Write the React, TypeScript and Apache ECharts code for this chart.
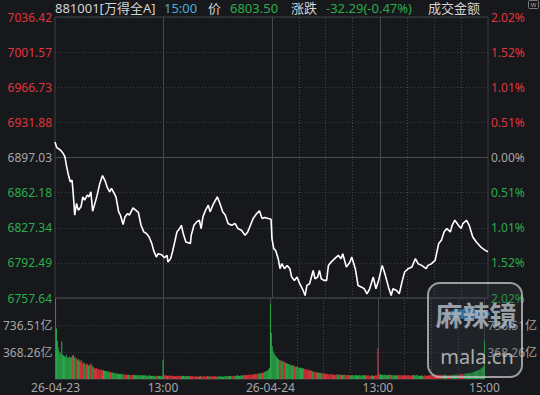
import React, { useEffect, useRef } from 'react';
import * as echarts from 'echarts';

// ---- data ----
const prevClose = 6897.03;
const lastPrice = 6803.5;
const change = -32.29;
const changePct = -0.47;

const timeLabelMinutes = [0, 121, 242, 363, 483];
const timeLabels = ['26-04-23', '13:00', '26-04-24', '13:00', '15:00'];

// trading-minute index (0..483 over two sessions) and price at that minute
const lineMinutes = [
  0, 2, 6, 9, 11, 13, 15, 17, 19, 20, 21, 22, 24, 26, 29, 31, 33, 36, 38, 40,
  42, 45, 47, 50, 53, 56, 58, 61, 63, 66, 68, 71, 73, 76, 78, 81, 83, 87, 90, 93,
  96, 99, 102, 105, 108, 110, 113, 115, 119, 122, 125, 126, 129, 131, 134, 136, 139, 141, 143, 146,
  151, 152, 155, 158, 161, 163, 165, 168, 171, 173, 176, 178, 181, 184, 187, 190, 193, 197, 201, 204,
  208, 212, 215, 218, 221, 225, 228, 231, 234, 238, 241,
  242, 244, 246, 249, 251, 253, 256, 259, 262, 264, 267, 270, 273, 276, 279, 281, 284, 288, 290, 293,
  295, 297, 300, 303, 305, 308, 312, 316, 319, 321, 325, 329, 331, 335, 338, 342, 345, 348, 351, 355,
  358, 361, 365, 368, 372, 375, 377, 381, 384, 387, 390, 394, 398, 402, 405, 409, 414, 416, 420, 424,
  426, 428, 431, 434, 437, 441, 443, 446, 450, 453, 455, 459, 462, 466, 470, 475, 480, 483,
];
const linePrices = [
  6912.5, 6906.8, 6904.5, 6901.2, 6897.8, 6887.9, 6879.6, 6872.9, 6874.6, 6864.7, 6853.0, 6839.8, 6851.4, 6844.8, 6848.1, 6858.0, 6854.7, 6859.7, 6858.0, 6863.0,
  6843.8, 6853.0, 6859.7, 6871.3, 6879.1, 6873.6, 6868.0, 6863.0, 6866.4, 6861.4, 6858.0, 6843.1, 6839.8, 6830.5, 6838.1, 6841.5, 6839.8, 6847.1, 6844.8, 6842.5,
  6829.8, 6823.2, 6821.6, 6818.2, 6811.6, 6804.9, 6798.3, 6801.6, 6800.6, 6797.6, 6799.9, 6793.3, 6796.7, 6803.3, 6814.9, 6823.2, 6826.5, 6829.8, 6821.6, 6813.2,
  6811.6, 6819.9, 6829.8, 6833.1, 6834.8, 6826.5, 6838.1, 6844.8, 6849.7, 6843.1, 6849.7, 6853.0, 6858.0, 6851.4, 6843.1, 6839.8, 6831.5, 6829.8, 6831.5, 6826.5,
  6824.8, 6819.9, 6823.2, 6829.8, 6836.5, 6841.5, 6844.1, 6836.5, 6837.5, 6836.5, 6835.79,
  6816.6, 6806.6, 6804.9, 6796.7, 6786.7, 6791.7, 6786.7, 6790.0, 6786.7, 6778.4, 6775.1, 6778.4, 6771.8, 6766.8, 6760.1, 6770.1, 6771.8, 6785.0, 6776.7, 6778.4,
  6785.0, 6776.7, 6775.1, 6775.1, 6790.0, 6793.3, 6796.7, 6800.0, 6796.7, 6801.6, 6788.3, 6793.3, 6798.3, 6786.7, 6770.1, 6768.4, 6766.8, 6761.8, 6766.8, 6778.4,
  6766.8, 6775.1, 6790.0, 6781.7, 6768.4, 6760.1, 6766.8, 6765.1, 6761.8, 6773.4, 6783.4, 6786.7, 6788.3, 6796.7, 6791.7, 6790.0, 6786.7, 6790.0, 6791.7, 6795.0,
  6803.3, 6811.6, 6815.0, 6823.2, 6826.5, 6823.2, 6829.8, 6834.8, 6829.8, 6826.5, 6831.5, 6834.8, 6829.8, 6818.2, 6813.2, 6808.2, 6804.9, 6803.5,
];

// turnover per minute, 亿
const volDay1 = [
  1100, 690, 520, 430, 380, 360, 340, 510, 330, 320,
  310, 300, 330, 290, 300, 280, 310, 290, 300, 320,
  330, 290, 300, 270, 280, 260, 270, 250, 240, 260,
  220, 210, 230, 200, 190, 210, 200, 180, 190, 200,
  210, 180, 170, 160, 150, 140, 150, 130, 140, 125,
  120, 130, 125, 115, 120, 110, 115, 105, 100, 110,
  95, 90, 100, 85, 90, 80, 85, 75, 80, 70,
  75, 70, 65, 70, 60, 65, 60, 70, 60, 55,
  60, 55, 60, 50, 55, 50, 55, 60, 50, 55,
  50, 55, 45, 50, 55, 50, 45, 50, 55, 45,
  50, 45, 50, 45, 40, 45, 50, 45, 40, 45,
  40, 45, 40, 35, 45, 40, 45, 40, 35, 40, 45,
  260,
  60, 50, 45, 50, 40, 45, 50, 40, 45, 40,
  45, 40, 35, 40, 45, 40, 35, 40, 45, 40,
  35, 40, 45, 35, 40, 35, 40, 45, 40, 35,
  40, 35, 40, 35, 30, 35, 40, 35, 30, 35,
  35, 40, 35, 30, 35, 40, 35, 30, 35, 40,
  35, 30, 35, 40, 35, 30, 35, 40, 35, 30,
  35, 30, 35, 40, 35, 30, 35, 30, 35, 40,
  35, 40, 35, 40, 45, 40, 35, 40, 45, 40,
  45, 40, 45, 50, 45, 40, 45, 50, 45, 50,
  50, 55, 50, 55, 50, 55, 60, 55, 60, 55,
  60, 65, 60, 70, 65, 70, 75, 70, 80, 75,
  80, 90, 85, 95, 100, 110, 105, 120, 130, 150,
];
const volDay2 = [
  1020, 630, 450, 380, 350, 330, 310, 300,
  280, 270, 260, 250, 255, 240, 235, 245, 230, 220,
  215, 210, 200, 205, 195, 190, 185, 180, 190, 175,
  170, 165, 175, 160, 155, 150, 160, 145, 140, 150,
  135, 130, 140, 125, 120, 130, 115, 110, 120, 105,
  100, 95, 100, 90, 95, 85, 90, 80, 85, 80,
  75, 80, 70, 75, 70, 65, 70, 65, 60, 65,
  60, 65, 60, 55, 60, 55, 60, 65, 55, 60,
  55, 60, 55, 50, 55, 60, 55, 50, 55, 50,
  55, 50, 45, 50, 55, 50, 45, 50, 55, 50,
  45, 50, 55, 50, 45, 50, 45, 50, 55, 45,
  50, 45, 50, 45, 40, 45, 50, 45, 40, 45, 50, 45, 50,
  420,
  80, 65, 60, 55, 60, 50, 55, 60, 50, 55,
  50, 55, 60, 50, 55, 50, 45, 50, 55, 50,
  45, 50, 55, 50, 45, 50, 55, 45, 50, 55,
  50, 45, 50, 55, 50, 45, 50, 45, 50, 55,
  50, 45, 50, 55, 50, 45, 40, 45, 50, 45,
  40, 45, 50, 45, 40, 45, 50, 45, 50, 45,
  50, 55, 50, 55, 60, 55, 50, 55, 60, 55,
  60, 55, 50, 55, 60, 55, 50, 55, 50, 55,
  50, 55, 60, 55, 50, 55, 60, 65, 60, 55,
  60, 65, 60, 70, 65, 60, 65, 70, 75, 70,
  75, 80, 75, 85, 80, 90, 95, 90, 100, 105,
  110, 115, 120, 125, 130, 140, 150, 160, 170, 530,
];

// vertical grid guides (trading-minute index)
const solidGuides = [121, 242, 363];
const dottedGuides = [272, 302, 332, 393, 423, 453];

// ---- styling ----
const BG = '#16181c';
const RED = '#e0343c';
const GREEN = '#2aad4a';
const GRAY = '#a6a6a6';
const FONT = '"Noto Sans", "Noto Sans CJK SC", sans-serif';
const GRID_SOLID = '#3c3f45';
const GRID_DOT = '#3a3d43';

function priceAt(m: number): number {
  if (m <= lineMinutes[0]) return linePrices[0];
  for (let i = 1; i < lineMinutes.length; i++) {
    if (m <= lineMinutes[i]) {
      const t = (m - lineMinutes[i - 1]) / (lineMinutes[i] - lineMinutes[i - 1]);
      return linePrices[i - 1] + t * (linePrices[i] - linePrices[i - 1]);
    }
  }
  return linePrices[linePrices.length - 1];
}

export default function App() {
  const ref = useRef<HTMLDivElement>(null);
  useEffect(() => {
    if (!ref.current) return;
    const chart = echarts.init(ref.current, null, { renderer: 'svg' });

    const priceMin = 6757.64;
    const priceMax = 7036.42;
    const priceStep = 34.8475;
    const volStep = 368.2567;
    const volMax = 1104.7701;

    const lineData = lineMinutes.map((m, i) => [m, linePrices[i]]);
    const vols = volDay1.concat(volDay2);
    const barData = vols.map((v, i) => {
      const prev = i === 0 ? prevClose : priceAt(i - 1);
      const cur = priceAt(i);
      return { value: [i, v], itemStyle: { color: cur >= prev ? RED : GREEN } };
    });

    const colorFor = (val: any) => {
      const v = parseFloat(val);
      if (Math.abs(v - prevClose) < 0.01) return GRAY;
      return v > prevClose ? RED : GREEN;
    };

    const guideLines = [
      ...solidGuides.map((x) => ({ xAxis: x, lineStyle: { type: 'solid', color: '#45484e', width: 1 } })),
      ...dottedGuides.map((x) => ({ xAxis: x, lineStyle: { type: [1, 2], color: '#45484e', width: 1 } })),
    ];

    const text = (x: number, y: number, t: string, fill: string, size = 13, align = 'left') => ({
      type: 'text',
      x,
      y,
      z: 50,
      style: { text: t, fill, font: `${size}px ${FONT}`, align, verticalAlign: 'middle' },
    });

    chart.setOption({
      animation: false,
      backgroundColor: BG,
      textStyle: { fontFamily: FONT },
      grid: [
        { left: 55, width: 433, top: 17, height: 281, show: true, borderColor: GRID_SOLID, borderWidth: 1 },
        { left: 55, width: 433, top: 298, height: 81, show: true, borderColor: GRID_SOLID, borderWidth: 1 },
      ],
      xAxis: [
        { type: 'value', gridIndex: 0, min: 0, max: 483, show: false },
        {
          type: 'value',
          gridIndex: 1,
          min: 0,
          max: 483,
          interval: 121,
          axisLine: { show: false },
          axisTick: { show: false },
          splitLine: { show: false },
          axisLabel: {
            color: GRAY,
            fontSize: 12,
            fontFamily: FONT,
            margin: 2,
            showMinLabel: true,
            showMaxLabel: true,
            formatter: (v: number) => {
              const k = timeLabelMinutes.indexOf(Math.round(v));
              return k >= 0 ? timeLabels[k] : '';
            },
          },
        },
      ],
      yAxis: [
        {
          type: 'value',
          gridIndex: 0,
          position: 'left',
          min: priceMin,
          max: priceMax,
          interval: priceStep,
          axisLine: { show: false },
          axisTick: { show: false },
          splitLine: { show: true, lineStyle: { color: GRID_DOT, type: [1, 2] } },
          axisLabel: {
            fontSize: 12,
            fontFamily: FONT,
            margin: 3,
            showMinLabel: true,
            showMaxLabel: true,
            formatter: (v: number) => v.toFixed(2),
            color: colorFor,
          },
        },
        {
          type: 'value',
          gridIndex: 0,
          position: 'right',
          min: priceMin,
          max: priceMax,
          interval: priceStep,
          axisLine: { show: false },
          axisTick: { show: false },
          splitLine: { show: false },
          axisLabel: {
            fontSize: 12,
            fontFamily: FONT,
            margin: 3,
            showMinLabel: true,
            showMaxLabel: true,
            formatter: (v: number) => (Math.abs((v - prevClose) / prevClose) * 100).toFixed(2) + '%',
            color: colorFor,
          },
        },
        {
          type: 'value',
          gridIndex: 1,
          position: 'left',
          min: 0,
          max: volMax,
          interval: volStep,
          axisLine: { show: false },
          axisTick: { show: false },
          splitLine: { show: true, lineStyle: { color: GRID_DOT, type: [1, 2] } },
          axisLabel: {
            fontSize: 12,
            fontFamily: FONT,
            margin: 3,
            color: GRAY,
            formatter: (v: number) => (v <= 0 || v >= volMax - 1 ? '' : v.toFixed(2) + '亿'),
          },
        },
        {
          type: 'value',
          gridIndex: 1,
          position: 'right',
          min: 0,
          max: volMax,
          interval: volStep,
          axisLine: { show: false },
          axisTick: { show: false },
          splitLine: { show: false },
          axisLabel: {
            fontSize: 12,
            fontFamily: FONT,
            margin: 3,
            color: GRAY,
            formatter: (v: number) => (v <= 0 || v >= volMax - 1 ? '' : v.toFixed(2) + '亿'),
          },
        },
      ],
      series: [
        {
          type: 'line',
          xAxisIndex: 0,
          yAxisIndex: 0,
          data: lineData,
          showSymbol: false,
          symbol: 'none',
          z: 10,
          lineStyle: { color: '#ffffff', width: 1.6 },
          markLine: {
            silent: true,
            symbol: 'none',
            label: { show: false },
            data: [{ yAxis: prevClose, lineStyle: { type: 'solid', color: '#4a4d53', width: 1 } }, ...guideLines],
          },
        },
        {
          type: 'bar',
          xAxisIndex: 1,
          yAxisIndex: 2,
          data: barData,
          barWidth: 1,
          z: 10,
          markLine: {
            silent: true,
            symbol: 'none',
            label: { show: false },
            data: guideLines,
          },
        },
      ],
      graphic: [
        text(55, 8, '881001[万得全A]', '#d4d4d4'),
        text(164, 8, '15:00', '#4aaed6'),
        text(208, 8, '价', '#d4d4d4'),
        text(230, 8, lastPrice.toFixed(2), GREEN),
        text(291, 8, '涨跌', '#d4d4d4'),
        text(326, 8, `${change.toFixed(2)}(${changePct.toFixed(2)}%)`, GREEN),
        text(428, 8, '成交金额', '#d4d4d4'),
        {
          type: 'rect',
          z: 50,
          shape: { x: 528.5, y: 0.5, width: 10, height: 8, r: 1 },
          style: { fill: 'none', stroke: '#7a7a7a', lineWidth: 1 },
        },
        text(533.5, 4.5, 'w', '#9a9a9a', 7, 'center'),
        // watermark
        {
          type: 'group',
          z: 100,
          children: [
            {
              type: 'rect',
              z: 100,
              shape: { x: 428, y: 283, width: 94, height: 94, r: 12 },
              style: { fill: 'rgba(60,64,70,0.25)', stroke: 'rgba(200,200,200,0.75)', lineWidth: 2 },
            },
            {
              type: 'ellipse',
              z: 100,
              shape: { cx: 468, cy: 314, rx: 22, ry: 5 },
              style: { fill: 'rgba(70,170,240,0.55)' },
            },
            {
              type: 'text',
              z: 101,
              x: 476,
              y: 314,
              style: {
                text: '麻辣镜',
                fill: 'rgba(175,185,195,0.85)',
                font: `bold 27px "Noto Sans CJK SC", sans-serif`,
                align: 'center',
                verticalAlign: 'middle',
              },
            },
            {
              type: 'text',
              z: 101,
              x: 477,
              y: 356,
              style: {
                text: 'mala.cn',
                fill: 'rgba(200,200,200,0.85)',
                font: `20px "Noto Sans", sans-serif`,
                align: 'center',
                verticalAlign: 'middle',
              },
            },
          ],
        },
      ],
    });

    return () => chart.dispose();
  }, []);

  return (
    <div
      ref={ref}
      style={{ position: 'fixed', left: 0, top: 0, width: 540, height: 395, background: BG }}
    />
  );
}
